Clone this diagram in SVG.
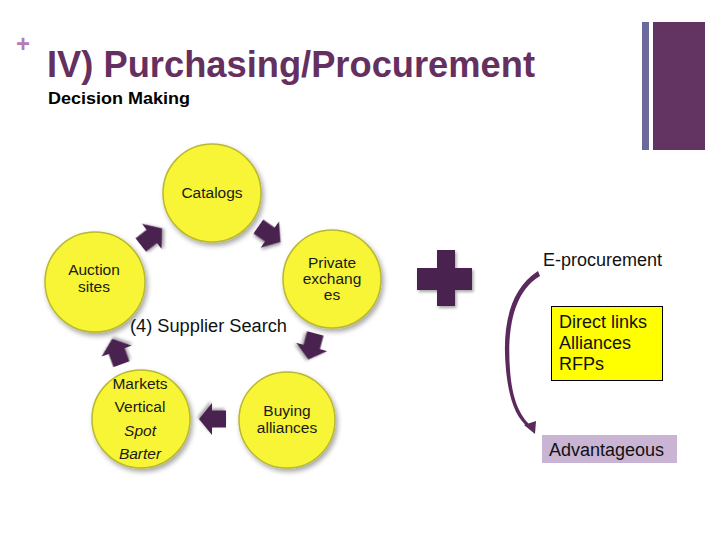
<svg xmlns="http://www.w3.org/2000/svg" width="728" height="546" viewBox="0 0 728 546">
<defs>
<style>
.title{font-family:"Liberation Sans",Arial,sans-serif;font-weight:bold;font-size:36px;fill:#65305f}
.sub{font-family:"Liberation Sans",Arial,sans-serif;font-weight:bold;font-size:17px;fill:#000}
.ct{font-family:"Liberation Sans",Arial,sans-serif;font-size:15.5px;fill:#1a1a1a;text-anchor:middle}
.lbl{font-family:"Liberation Sans",Arial,sans-serif;font-size:18px;fill:#111}
.circ{fill:#f7f536;stroke:#b9b830;stroke-width:1.5;filter:url(#sh)}
.arr{fill:#4a2050;filter:url(#sh2)}
</style>
<filter id="sh" x="-20%" y="-20%" width="150%" height="150%">
<feDropShadow dx="2" dy="3" stdDeviation="2.5" flood-color="#000" flood-opacity="0.35"/>
</filter>
<filter id="sh2" x="-30%" y="-30%" width="170%" height="170%">
<feDropShadow dx="1.5" dy="2" stdDeviation="1.5" flood-color="#000" flood-opacity="0.35"/>
</filter>
<path id="blk" d="M-13,-8.5 L1,-8.5 L1,-16 L14,0 L1,16 L1,8.5 L-13,8.5 Z"/>
</defs>
<rect width="728" height="546" fill="#fff"/>

<g id="header">
<text x="16" y="52" font-family="Liberation Sans,Arial,sans-serif" font-weight="bold" font-size="24" fill="#b57bb5">+</text>
<text class="title" x="47" y="77" textLength="488" lengthAdjust="spacingAndGlyphs">IV) Purchasing/Procurement</text>
<text class="sub" x="48" y="104" textLength="142" lengthAdjust="spacingAndGlyphs">Decision Making</text>
<rect x="642" y="22" width="7" height="128" fill="#6b6b9b"/>
<rect x="653" y="22" width="52" height="128" fill="#633462"/>
</g>

<g id="catalogs">
<circle class="circ" cx="212" cy="193" r="49"/>
<text class="ct" x="212" y="198">Catalogs</text>
</g>
<g id="private">
<circle class="circ" cx="332" cy="279" r="49"/>
<text class="ct" x="332" y="268">Private</text>
<text class="ct" x="332" y="284">exchang</text>
<text class="ct" x="332" y="300">es</text>
</g>
<g id="buying">
<circle class="circ" cx="287" cy="420" r="48"/>
<text class="ct" x="287" y="416">Buying</text>
<text class="ct" x="287" y="433">alliances</text>
</g>
<g id="markets">
<circle class="circ" cx="141" cy="419" r="49"/>
<text class="ct" x="140" y="389">Markets</text>
<text class="ct" x="140" y="412">Vertical</text>
<text class="ct" x="140" y="436" font-style="italic">Spot</text>
<text class="ct" x="140" y="459" font-style="italic">Barter</text>
</g>
<g id="auction">
<circle class="circ" cx="95" cy="282" r="50"/>
<text class="ct" x="94" y="275">Auction</text>
<text class="ct" x="94" y="292">sites</text>
</g>
<text class="lbl" x="130" y="332" textLength="157" lengthAdjust="spacingAndGlyphs">(4) Supplier Search</text>

<g id="connectors">
<use href="#blk" class="arr" transform="translate(151,237) rotate(-38)"/>
<use href="#blk" class="arr" transform="translate(269,234) rotate(35)"/>
<use href="#blk" class="arr" transform="translate(312,346) rotate(105)"/>
<use href="#blk" class="arr" transform="translate(213,419) rotate(180)"/>
<use href="#blk" class="arr" transform="translate(117,352) rotate(-110)"/>
<path d="M538,271 C508,290 502,330 506,370 C509,400 516,418 529,428 L531,426 C519,415 512,398 510,370 C507,330 513,292 540,276 Z" fill="#5a2a5c"/>
<polygon points="524,425 536,421 535,434" fill="#5a2a5c"/>
</g>

<g id="plus">
<path d="M437,250 H455 V268 H472 V290 H455 V306 H437 V290 H417 V268 H437 Z" fill="#4a2050" filter="url(#sh2)"/>
</g>

<g id="eproc">
<text class="lbl" x="543" y="266" font-size="17">E-procurement</text>
</g>
<g id="links">
<rect x="551.5" y="306.5" width="111" height="74" fill="#ffff00" stroke="#000" stroke-width="1"/>
<text class="lbl" x="559" y="328">Direct links</text>
<text class="lbl" x="559" y="349">Alliances</text>
<text class="lbl" x="559" y="370">RFPs</text>
</g>
<g id="advantageous">
<rect x="542" y="435" width="135" height="28" fill="#c9b4d4"/>
<text class="lbl" x="549" y="456" font-size="17.5">Advantageous</text>
</g>
</svg>
